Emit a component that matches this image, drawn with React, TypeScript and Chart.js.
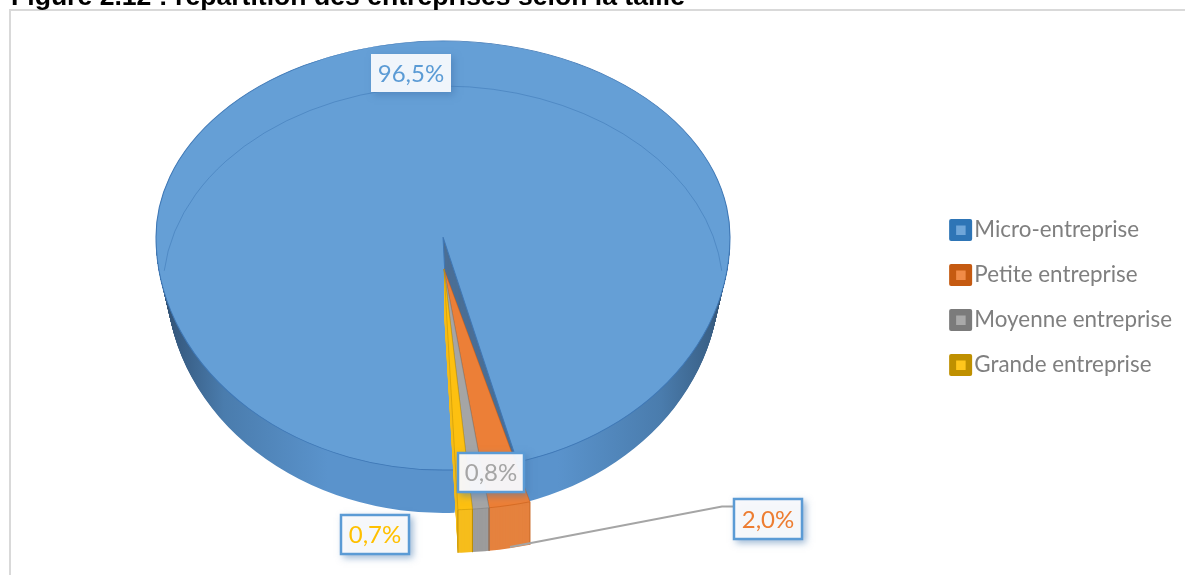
import React, { useEffect, useRef } from "react";
import { Chart, registerables } from "chart.js";

Chart.register(...registerables);

// Chart content
const titleText = "Figure 2.12 : répartition des entreprises selon la taille";
const categories = ["Micro-entreprise", "Petite entreprise", "Moyenne entreprise", "Grande entreprise"];
const shares = [96.5, 2.0, 0.8, 0.7];

// Slice palette
const faceColors = ["#659fd6", "#ec7f37", "#a5a5a5", "#fdc010"];
const sideColors = ["#5b95cf", "#e5823e", "#9c9c9c", "#f6bd1c"];
const edgeColors = ["#3f78b6", "#c55a11", "#7b7b7b", "#bf9000"];
const legendDark = ["#2e75b6", "#c55a11", "#7b7b7b", "#bf9000"];
const legendLight = ["#6fa6d9", "#f08b47", "#a9a9a9", "#ffc61c"];
const labelColors = ["#5b9bd5", "#ed7d31", "#a5a5a5", "#ffc000"];
const rimStops: [number, string][] = [
  [0, "#2c4663"], [0.035, "#365a80"], [0.12, "#4a7cad"], [0.3, "#5a93cc"],
  [0.7, "#5a93cc"], [0.88, "#4a7cad"], [0.965, "#3a6188"], [1, "#2c4663"],
];

// Tilted-disc geometry: the disc is wider than it is deep, and the half nearer the
// viewer is stretched more than the far half, which gives the perspective look.
const DISC = { cx: 443, cy: 237, rx: 287, ryBack: 196, ryFront: 233, depth: 43, shrink: 0.036 };
const PULLED = { cx: 444, cy: 269, rx: 332, ryBack: 20, ryFront: 241, depth: 43 };

// Label boxes: left, top, right, bottom, and whether the box is outlined
const LABEL_BOXES = [
  [371, 54, 451, 92, false],
  [733, 498, 803, 540, true],
  [457, 452, 525, 493, true],
  [340, 514, 410, 555, true],
] as const;
const LEADER = [[733, 506.5], [722, 506.5], [510, 547]];

const FONT = "Lato, 'Open Sans', sans-serif";
const formatShare = (v: number) => v.toFixed(1).replace(".", ",") + "%";

function drawWith(arc: any, ctx: CanvasRenderingContext2D, fill: any, border: any, width: number) {
  const original = arc.options;
  arc.options = { ...original, backgroundColor: fill, borderColor: border, borderWidth: width };
  arc.draw(ctx);
  arc.options = original;
}

// Paints one arc under the two-part tilt; dy moves it down
function tilted(ctx: CanvasRenderingContext2D, arc: any, g: any, dy: number, paint: () => void) {
  const R = arc.outerRadius;
  const parts: [number, number, number][] = [
    [0, g.cy + dy, g.ryBack],
    [g.cy + dy, 575, g.ryFront],
  ];
  for (const [from, to, ry] of parts) {
    ctx.save();
    ctx.beginPath();
    ctx.rect(0, from, 1185, to - from);
    ctx.clip();
    ctx.translate(g.cx, g.cy + dy);
    ctx.scale(g.rx / R, ry / R);
    ctx.translate(-arc.x, -arc.y);
    paint();
    ctx.restore();
  }
}

function discOutline(ctx: CanvasRenderingContext2D, g: any) {
  ctx.ellipse(g.cx, g.cy, g.rx, g.ryBack, 0, Math.PI, Math.PI * 2);
  ctx.ellipse(g.cx, g.cy, g.rx, g.ryFront, 0, 0, Math.PI);
  ctx.closePath();
}

const piePlugin = {
  id: "tiltedPie",
  beforeDraw(chart: any) {
    const { ctx } = chart;
    ctx.save();
    ctx.fillStyle = "#ffffff";
    ctx.fillRect(0, 0, 1185, 575);
    ctx.strokeStyle = "#d9d9d9";
    ctx.lineWidth = 2;
    ctx.strokeRect(10, 10, 1300, 700);
    ctx.fillStyle = "#000000";
    ctx.font = "bold 26.6px 'Liberation Sans', Arial, sans-serif";
    ctx.textBaseline = "alphabetic";
    ctx.fillText(titleText, 11, 5);
    ctx.restore();
  },
  beforeDatasetsDraw(chart: any) {
    const { ctx } = chart;
    const arcs = chart.getDatasetMeta(0).data;
    const main = arcs[0];
    const R = main.outerRadius;

    // Cut faces of the large slice, seen through its notch
    ctx.save();
    ctx.beginPath();
    discOutline(ctx, DISC);
    ctx.clip();
    for (let dy = DISC.depth; dy >= 1; dy--) {
      tilted(ctx, main, DISC, dy, () => drawWith(main, ctx, "#4b6f96", "#4b6f96", 0));
    }
    ctx.restore();

    // Outer rim of the large slice, shaded towards the sides
    ctx.save();
    ctx.beginPath();
    ctx.rect(0, 0, 1185, 575);
    discOutline(ctx, DISC);
    ctx.clip("evenodd");
    for (let dy = DISC.depth; dy >= 1; dy--) {
      const scale = 1 - (DISC.shrink * dy) / DISC.depth;
      const sx = (DISC.rx * scale) / R;
      ctx.save();
      ctx.beginPath();
      ctx.rect(0, DISC.cy + dy, 1185, 575);
      ctx.clip();
      ctx.translate(DISC.cx, DISC.cy + dy);
      ctx.scale(sx, DISC.ryFront / R);
      ctx.translate(-main.x, -main.y);
      const shade = ctx.createLinearGradient(
        main.x + (155 - DISC.cx) / sx,
        0,
        main.x + (730 - DISC.cx) / sx,
        0,
      );
      rimStops.forEach(([s, c]) => shade.addColorStop(s, c));
      drawWith(main, ctx, shade, shade, 0);
      ctx.restore();
    }
    ctx.restore();

    // Top face of the large slice
    tilted(ctx, main, DISC, 0, () => drawWith(main, ctx, faceColors[0], edgeColors[0], 1));

    // Bevel line on the top face
    ctx.save();
    ctx.strokeStyle = "rgba(62,120,182,0.55)";
    ctx.lineWidth = 1;
    ctx.beginPath();
    ctx.ellipse(443, 290, 280, 204, 0, Math.PI * 1.03, Math.PI * 1.97);
    ctx.stroke();
    ctx.restore();

    // Pulled-out slices: sides first, then the tops
    for (let dy = PULLED.depth; dy >= 1; dy--) {
      for (let i = 1; i < arcs.length; i++) {
        tilted(ctx, arcs[i], PULLED, dy, () => drawWith(arcs[i], ctx, sideColors[i], sideColors[i], 0));
      }
    }
    for (let i = 1; i < arcs.length; i++) {
      const arc = arcs[i];
      // Upright edges of each pulled slice side
      ctx.save();
      ctx.strokeStyle = edgeColors[i];
      ctx.lineWidth = 1;
      for (const a of [arc.startAngle, arc.endAngle]) {
        const x = PULLED.cx + PULLED.rx * Math.cos(a);
        const y = PULLED.cy + PULLED.ryFront * Math.sin(a);
        ctx.beginPath();
        ctx.moveTo(x, y);
        ctx.lineTo(x, y + PULLED.depth);
        ctx.stroke();
      }
      ctx.restore();
      tilted(ctx, arc, PULLED, 0, () => drawWith(arc, ctx, faceColors[i], edgeColors[i], 0.5));
    }
    return false;
  },
  afterDraw(chart: any) {
    const { ctx } = chart;
    const values: number[] = chart.data.datasets[0].data;

    // Leader line from the 2,0% label to its slice
    ctx.save();
    ctx.strokeStyle = "#a5a5a5";
    ctx.lineWidth = 2;
    ctx.beginPath();
    LEADER.forEach(([x, y], i) => (i ? ctx.lineTo(x, y) : ctx.moveTo(x, y)));
    ctx.stroke();
    ctx.restore();

    // Value labels
    values.forEach((value, i) => {
      const [l, t, r, b, outlined] = LABEL_BOXES[i];
      ctx.save();
      ctx.shadowColor = "rgba(70,120,175,0.55)";
      ctx.shadowBlur = 7;
      ctx.shadowOffsetX = 3;
      ctx.shadowOffsetY = 3;
      ctx.fillStyle = outlined ? "rgba(250,250,252,0.95)" : "rgba(240,245,251,1)";
      ctx.fillRect(l, t, r - l, b - t);
      ctx.restore();
      ctx.save();
      if (outlined) {
        ctx.strokeStyle = "#5b9bd5";
        ctx.lineWidth = 2.5;
        ctx.strokeRect(l + 1, t + 1, r - l - 2, b - t - 2);
      }
      ctx.fillStyle = labelColors[i];
      ctx.font = `24px ${FONT}`;
      ctx.textAlign = "center";
      ctx.textBaseline = "middle";
      ctx.fillText(formatShare(value), (l + r) / 2, (t + b) / 2 + 1);
      ctx.restore();
    });

    // Legend swatches beside the entries laid out by the legend
    chart.legend.legendHitBoxes.forEach((hit: any, i: number) => {
      const x = hit.left - 12;
      const y = hit.top + hit.height / 2 - 11;
      ctx.save();
      ctx.fillStyle = legendDark[i];
      ctx.beginPath();
      ctx.roundRect(x, y, 23, 22, 2);
      ctx.fill();
      ctx.fillStyle = legendLight[i];
      ctx.fillRect(x + 7, y + 6.5, 9.5, 9.5);
      ctx.restore();
    });
  },
};

export default function App() {
  const ref = useRef<HTMLCanvasElement>(null);
  useEffect(() => {
    document.body.style.margin = "0";
    document.body.style.overflow = "hidden";
    const chart = new Chart(ref.current!, {
      type: "pie",
      data: {
        labels: categories,
        datasets: [{ data: shares, backgroundColor: faceColors }],
      },
      options: {
        responsive: false,
        animation: false,
        rotation: 177.6,
        layout: { padding: { top: 20, right: 3 } },
        plugins: {
          tooltip: { enabled: false },
          legend: {
            position: "right",
            labels: {
              boxWidth: 2,
              boxHeight: 2,
              padding: 22.6,
              font: { family: FONT, size: 22.4 },
              color: "#7f7f7f",
              generateLabels: (c: any) =>
                c.data.labels.map((text: string, index: number) => ({
                  text,
                  index,
                  fillStyle: "transparent",
                  strokeStyle: "transparent",
                  lineWidth: 0,
                  fontColor: "#7f7f7f",
                  hidden: false,
                })),
            },
          },
        },
      },
      plugins: [piePlugin],
    } as any);
    return () => chart.destroy();
  }, []);
  return <canvas ref={ref} width={1185} height={575} style={{ display: "block", width: 1185, height: 575 }} />;
}
